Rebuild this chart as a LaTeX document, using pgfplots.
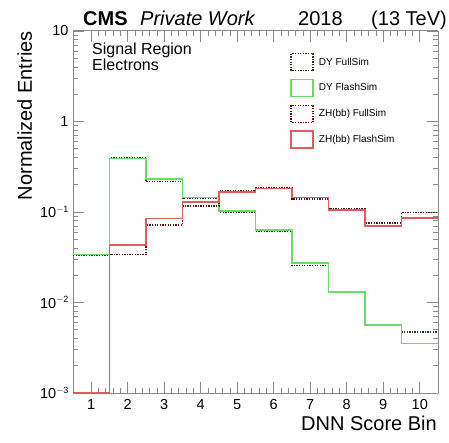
\documentclass[border=0pt]{standalone}
\usepackage{pgfplots}
\pgfplotsset{compat=1.18}
\usepackage{fontspec}
\setmainfont{Liberation Sans}

\definecolor{dyflash}{HTML}{66DD66}
\definecolor{zhflash}{HTML}{E25A5A}
\definecolor{dyfull}{HTML}{1A3A1A}
\definecolor{zhfull}{HTML}{5A1010}
\definecolor{framegray}{HTML}{8A8A8A}

% Histogram contents, one row per bin (left edge, normalized entries);
% the last row closes the final bin at 10.5
\pgfplotstableread{
x     y
0.5   0.034
1.5   0.39
2.5   0.23
3.5   0.144
4.5   0.102
5.5   0.063
6.5   0.0275
7.5   0.013
8.5   0.0056
9.5   0.00354
10.5  0.00354
}\dyflash
\pgfplotstableread{
x     y
0.5   0.0335
1.5   0.40
2.5   0.216
3.5   0.141
4.5   0.100
5.5   0.062
6.5   0.0255
7.5   0.013
8.5   0.0056
9.5   0.0047
10.5  0.0047
}\dyfull
\pgfplotstableread{
x     y
0.5   0.001
1.5   0.0435
2.5   0.085
3.5   0.129
4.5   0.166
5.5   0.181
6.5   0.145
7.5   0.105
8.5   0.070
9.5   0.086
10.5  0.086
}\zhflash
\pgfplotstableread{
x     y
0.5   0.001
1.5   0.034
2.5   0.072
3.5   0.117
4.5   0.170
5.5   0.185
6.5   0.139
7.5   0.108
8.5   0.076
9.5   0.099
10.5  0.099
}\zhfull

\begin{document}
\begin{tikzpicture}[x=1pt,y=1pt]
\useasboundingbox (-73,-49) rectangle (376,393);
\begin{axis}[
  at={(0,0)}, anchor=south west,
  scale only axis, width=365pt, height=362pt,
  ymode=log,
  xmin=0.5, xmax=10.5, ymin=1e-3, ymax=10,
  xtick={1,...,10},
  minor x tick num=4,
  ytick={1e-3,1e-2,1e-1,1,10},
  yticklabels={10\raisebox{0.75ex}{\fontsize{9}{9}\selectfont $-$3},
               10\raisebox{0.75ex}{\fontsize{9}{9}\selectfont $-$2},
               10\raisebox{0.75ex}{\fontsize{9}{9}\selectfont $-$1},
               1, 10},
  tick label style={font=\fontsize{14.5}{16}\selectfont},
  xticklabel style={yshift=-3pt},
  yticklabel style={xshift=-1pt},
  /pgf/number format/assume math mode=true,
  separate axis lines,
  axis line style={draw=framegray, line width=1pt},
  tick style={draw=framegray, line width=0.8pt},
  major tick length=11pt, minor tick length=5.5pt,
  tick align=inside,
  xtick pos=both, ytick pos=both,
  legend image code/.code={\draw[#1] (0pt,-8.5pt) rectangle (22pt,8.5pt);},
  legend style={at={(0.595,0.94)}, anchor=north west, draw=none, fill=none,
    font=\fontsize{10}{12}\selectfont, inner sep=0pt, row sep=7.3pt,
    column sep=5pt, nodes={inner sep=0pt, minimum height=17pt}},
  legend cell align=left,
  clip=true,
]
\addplot[const plot mark left, draw=dyfull, line width=1.5pt, dash pattern=on 1.3pt off 1.3pt] table[x=x,y=y]{\dyfull};
\addlegendentry{DY FullSim}
\addplot[const plot mark left, draw=dyflash, line width=1.6pt] table[x=x,y=y]{\dyflash};
\addlegendentry{DY FlashSim}
\addplot[const plot mark left, draw=zhfull, line width=1.5pt, dash pattern=on 1.3pt off 1.3pt] table[x=x,y=y]{\zhfull};
\addlegendentry{ZH(bb) FullSim}
\addplot[const plot mark left, draw=zhflash, line width=1.6pt] table[x=x,y=y]{\zhflash};
\addlegendentry{ZH(bb) FlashSim}
\end{axis}
% header
\node[anchor=base west, font=\fontsize{20}{24}\selectfont\bfseries, inner sep=0pt] at (10,367) {CMS};
\node[anchor=base west, font=\fontsize{20}{24}\selectfont\itshape, inner sep=0pt] at (67,367) {Private Work};
\node[anchor=base west, font=\fontsize{20}{24}\selectfont, inner sep=0pt] at (225,367) {2018};
\node[anchor=base east, font=\fontsize{20}{24}\selectfont, inner sep=0pt] at (374,367) {(13 TeV)};
% region text
\node[anchor=base west, font=\fontsize{16}{19}\selectfont, inner sep=0pt] at (19,338.5) {Signal Region};
\node[anchor=base west, font=\fontsize{16}{19}\selectfont, inner sep=0pt] at (19,322.3) {Electrons};
% axis titles
\node[anchor=base east, font=\fontsize{20}{24}\selectfont, inner sep=0pt] at (364,-37) {DNN Score Bin};
\node[rotate=90, anchor=base east, font=\fontsize{20}{24}\selectfont, inner sep=0pt] at (-41,362) {Normalized Entries};
\end{tikzpicture}
\end{document}
